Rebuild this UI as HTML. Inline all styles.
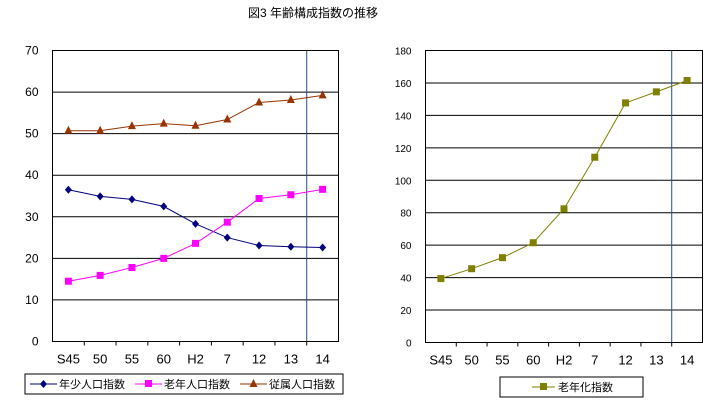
<!DOCTYPE html>
<html><head><meta charset="utf-8"><style>
body{margin:0;background:#fff;}
svg text{font-family:"Liberation Sans","Noto Sans CJK JP",sans-serif;}
</style></head><body>
<svg id="c" width="723" height="415" xmlns="http://www.w3.org/2000/svg">
<text x="313" y="17" font-size="12" text-anchor="middle">図3 年齢構成指数の推移</text>
<g id="L"></g><g id="R"></g>
<rect x="25" y="374" width="318" height="20" fill="#fff" stroke="#000"/>
<g><line x1="30" y1="384" x2="57" y2="384" stroke="#000080"/><path d="M43.5 380L47 384L43.5 388L40 384Z" fill="#000080"/><text x="59" y="388" font-size="11">年少人口指数</text></g>
<g><line x1="135" y1="384" x2="162" y2="384" stroke="#ff00ff"/><rect x="145" y="380" width="7" height="7" fill="#ff00ff"/><text x="164" y="388" font-size="11">老年人口指数</text></g>
<g><line x1="240" y1="384" x2="267" y2="384" stroke="#993300"/><path d="M253.5 379L257.5 387L249.5 387Z" fill="#993300"/><text x="269" y="388" font-size="11">従属人口指数</text></g>
<rect x="500" y="377" width="143" height="20" fill="#fff" stroke="#000"/>
<g><line x1="532" y1="387" x2="555" y2="387" stroke="#808000"/><rect x="540" y="383" width="7" height="7" fill="#808000"/><text x="558" y="391" font-size="11">老年化指数</text></g>
</svg>
<script>
const categories=["S45","50","55","60","H2","7","12","13","14"];
const youngValues=[36.5,34.9,34.2,32.5,28.3,25.0,23.1,22.8,22.6];
const oldValues=[14.5,15.9,17.8,20.0,23.6,28.7,34.4,35.3,36.6];
const workingValues=[50.7,50.7,51.8,52.4,51.9,53.4,57.5,58.1,59.2];
const leftTicks=[0,10,20,30,40,50,60,70];
const agingValues=[39.4,45.5,52.3,61.5,82.4,114.2,147.7,154.5,161.5];
const rightTicks=[0,20,40,60,80,100,120,140,160,180];
const NS="http://www.w3.org/2000/svg";
function mk(p,t,a){const e=document.createElementNS(NS,t);for(const k in a)e.setAttribute(k,a[k]);p.appendChild(e);return e;}
function axes(g,x0,x1,y0,y1,ticks,fs,sepIdx,name){
 const max=ticks[ticks.length-1];
 const X=i=>x0+(i+0.5)*(x1-x0)/categories.length;
 const Y=v=>y1-v/max*(y1-y0);
 ticks.forEach(t=>{
  if(t>0&&t<max){const l=mk(g,'line',{x1:x0,x2:x1,y1:Y(t),y2:Y(t),stroke:'#000'});
  
  }
  const tx=mk(g,'text',{x:x0-14,y:Y(t)+4,'font-size':fs,'text-anchor':'end'});tx.textContent=t;
  
  
 });
 const r=mk(g,'rect',{x:x0,y:y0,width:x1-x0,height:y1-y0,fill:'none',stroke:'#000'});
 
 
 categories.forEach((c,i)=>{
  const bx=x0+i*(x1-x0)/categories.length;
  if(i>0)mk(g,'line',{x1:bx,x2:bx,y1:y1,y2:y1+4,stroke:'#000'});
  const tx=mk(g,'text',{x:X(i),y:y1+22,'font-size':13,'text-anchor':'middle'});tx.textContent=c;
  
  
 });
 const sx=x0+sepIdx*(x1-x0)/categories.length;
 const s=mk(g,'line',{x1:sx,x2:sx,y1:y0,y2:y1,stroke:'#1f4e8c'});
 
 
 return {X,Y};
}
function series(g,vals,X,Y,col,shape,name){
 const pl=mk(g,'polyline',{points:vals.map((v,i)=>X(i)+','+Y(v)).join(' '),fill:'none',stroke:col});
 
 
 vals.forEach((v,i)=>{
  const x=X(i),y=Y(v);let m;
  if(shape==='d')m=mk(g,'path',{d:`M${x} ${y-4}L${x+3.5} ${y}L${x} ${y+4}L${x-3.5} ${y}Z`,fill:col});
  else if(shape==='t')m=mk(g,'path',{d:`M${x} ${y-5}L${x+4} ${y+3}L${x-4} ${y+3}Z`,fill:col});
  else m=mk(g,'rect',{x:x-3.5,y:y-3.5,width:7,height:7,fill:col});
  
  
 });
}
const L=document.getElementById('L');
const a=axes(L,52.5,338.5,50.5,341.5,leftTicks,12,8,'left');
series(L,workingValues,a.X,a.Y,'#993300','t','working');
series(L,youngValues,a.X,a.Y,'#000080','d','young');
series(L,oldValues,a.X,a.Y,'#ff00ff','s','old');
const R=document.getElementById('R');
const b=axes(R,425.5,702.5,50.5,342.5,rightTicks,10,8,'right');
series(R,agingValues,b.X,b.Y,'#808000','s','aging');
</script>
</body></html>
